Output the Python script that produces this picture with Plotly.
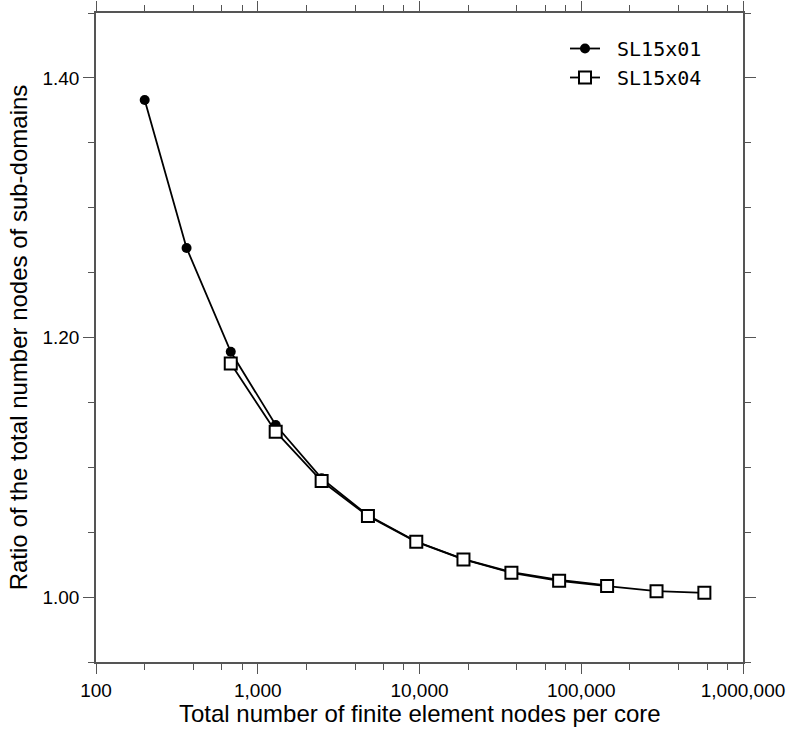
import plotly.graph_objects as go

# Data
nodes_x01 = [200, 363, 681, 1291, 2483, 4799, 9550, 18700, 37000, 73000, 144500]
ratio_x01 = [1.383, 1.269, 1.189, 1.1326, 1.0915, 1.063, 1.0428, 1.0292, 1.0192, 1.0133, 1.0090]
nodes_x04 = [681, 1291, 2483, 4799, 9550, 18700, 37000, 73000, 144500, 292000, 577000]
ratio_x04 = [1.180, 1.1274, 1.0894, 1.0624, 1.0426, 1.029, 1.0187, 1.0126, 1.0085, 1.0046, 1.0033]

x_tickvals = [100, 1000, 10000, 100000, 1000000]
x_ticktext = ["100", "1,000", "10,000", "100,000", "1,000,000"]
x_minor = [m * 10 ** e for e in range(2, 6) for m in (2, 4, 6, 8)]
x_title = "Total number of finite element nodes per core"
y_title = "Ratio of the total number nodes of sub-domains"

fig = go.Figure()
fig.add_trace(go.Scatter(
    x=nodes_x01, y=ratio_x01, name="\u00a0SL15x01", mode="lines+markers",
    line=dict(color="black", width=1.8),
    marker=dict(symbol="circle", size=10, color="black"),
))
fig.add_trace(go.Scatter(
    x=nodes_x04, y=ratio_x04, name="\u00a0SL15x04", mode="lines+markers",
    line=dict(color="black", width=1.8),
    marker=dict(symbol="square", size=12, color="white",
                line=dict(color="black", width=2)),
))

axis_color = "#555555"
fig.update_layout(
    width=791, height=733,
    margin=dict(l=96, r=48, t=13, b=71, autoexpand=False),
    paper_bgcolor="white", plot_bgcolor="white",
    font=dict(family="Liberation Sans, Arial, sans-serif", color="black"),
    showlegend=True,
    legend=dict(
        x=(565 - 96) / 647, y=1 - (29 - 13) / 649, xanchor="left", yanchor="top",
        bgcolor="rgba(0,0,0,0)", borderwidth=0, itemwidth=30,
        font=dict(family="DejaVu Sans Mono, monospace", size=20, color="black"),
        tracegroupgap=0,
    ),
    xaxis=dict(
        type="log", range=[2, 6], automargin=False,
        tickmode="array", tickvals=x_tickvals, ticktext=x_ticktext,
        ticks="outside", ticklen=10, tickwidth=1.2, tickcolor=axis_color,
        showline=True, linecolor=axis_color, linewidth=1.5, mirror="ticks",
        showgrid=False, zeroline=False,
        tickfont=dict(size=19, color="black"),
        minor=dict(tickmode="array", tickvals=x_minor, ticks="outside",
                   ticklen=6, tickwidth=1.2, tickcolor=axis_color, showgrid=False),
    ),
    yaxis=dict(
        range=[0.95, 1.45], automargin=False,
        tick0=1.0, dtick=0.2, tickformat=".2f",
        ticks="outside", ticklen=11, tickwidth=1.2, tickcolor=axis_color,
        showline=True, linecolor=axis_color, linewidth=1.5, mirror="ticks",
        showgrid=False, zeroline=False,
        tickfont=dict(size=19, color="black"),
        title=dict(text=y_title, font=dict(size=24, color="black"), standoff=8),
        minor=dict(tick0=1.0, dtick=0.05, ticks="outside",
                   ticklen=6, tickwidth=1.2, tickcolor=axis_color, showgrid=False),
    ),
    annotations=[dict(
        text=x_title, xref="paper", yref="paper", x=0.5, y=-(713 - 662) / 649,
        xanchor="center", yanchor="middle", showarrow=False,
        font=dict(size=24, color="black"),
    )],
)

fig.write_html("out.html", config={"displayModeBar": False},
               post_script="document.body.style.margin='0';")
